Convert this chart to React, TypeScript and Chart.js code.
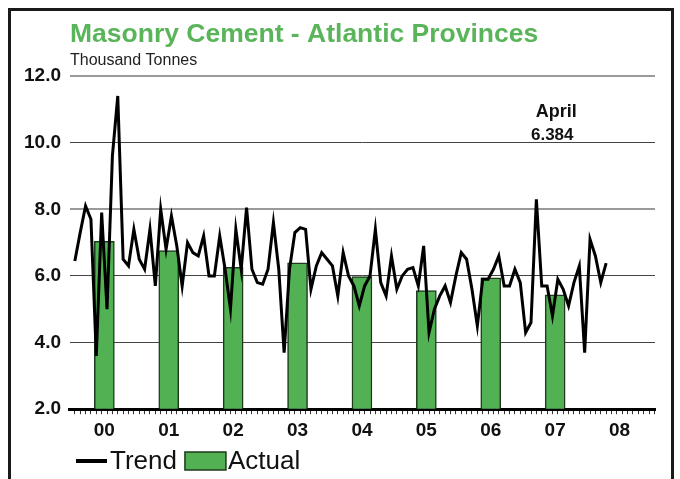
import React, { useEffect, useRef } from 'react';
import { Chart, registerables } from 'chart.js';

Chart.register(...registerables);

// ---- data ----
const yearLabels = ['00', '01', '02', '03', '04', '05', '06', '07', '08'];
const monthNames = ['January', 'February', 'March', 'April', 'May', 'June', 'July', 'August', 'September', 'October', 'November', 'December'];
// monthly trend, Jan 2000 .. Apr 2008 (thousand tonnes)
const trend = [
  6.45, 7.3, 8.1, 7.7, 3.6, 7.9, 5.0, 9.6, 11.4, 6.5, 6.3, 7.4,
  6.5, 6.2, 7.4, 5.7, 8.0, 6.8, 7.8, 6.9, 5.7, 7.0, 6.7, 6.6,
  7.2, 6.0, 6.0, 7.2, 6.2, 5.0, 7.4, 6.2, 8.05, 6.2, 5.8, 5.75,
  6.2, 7.6, 6.2, 3.7, 6.2, 7.3, 7.45, 7.4, 5.6, 6.3, 6.7, 6.5,
  6.3, 5.4, 6.7, 6.0, 5.7, 5.1, 5.7, 6.0, 7.4, 5.8, 5.4, 6.6,
  5.6, 6.0, 6.2, 6.25, 5.7, 6.9, 4.3, 5.0, 5.4, 5.7, 5.2, 6.0,
  6.7, 6.5, 5.6, 4.5, 5.9, 5.9, 6.2, 6.6, 5.7, 5.7, 6.2, 5.8,
  4.3, 4.6, 8.3, 5.7, 5.7, 4.8, 5.9, 5.6, 5.1, 5.8, 6.3, 3.7,
  7.1, 6.6, 5.8, 6.384,
];
// annual actual values, 2000 .. 2007
const actual = [7.04, 6.76, 6.26, 6.39, 5.98, 5.56, 5.94, 5.43];
const yTicks = [2, 4, 6, 8, 10, 12];

const FONT = '"Liberation Sans", Arial, sans-serif';
const GREEN = '#52b152';
const TITLE_GREEN = '#5ab55a';

const overlay = {
  id: 'overlay',
  afterDraw(chart: any) {
    const ctx = chart.ctx as CanvasRenderingContext2D;
    const xs = chart.scales.x;
    const ys = chart.scales.y;
    const area = chart.chartArea;
    ctx.save();
    // annotation of the last month
    const last = trend.length - 1;
    const ax = xs.getPixelForValue(last - 9.3);
    ctx.fillStyle = '#111';
    ctx.textAlign = 'center';
    ctx.textBaseline = 'alphabetic';
    ctx.font = 'bold 18px ' + FONT;
    ctx.fillText(monthNames[last % 12], ax, ys.getPixelForValue(10.77));
    ctx.font = 'bold 17px ' + FONT;
    ctx.fillText(trend[last].toFixed(3), ax - 4, ys.getPixelForValue(10.08));

    // legend
    const ds = chart.data.datasets;
    const ly = 461;
    let x = area.left + 6;
    ctx.textAlign = 'left';
    ctx.textBaseline = 'middle';
    ctx.font = '26px ' + FONT;
    // Trend
    ctx.strokeStyle = '#000';
    ctx.lineWidth = 4;
    ctx.beginPath();
    ctx.moveTo(x, ly);
    ctx.lineTo(x + 31, ly);
    ctx.stroke();
    x += 34;
    ctx.fillStyle = '#111';
    ctx.fillText(ds[0].label, x, ly + 1);
    x += ctx.measureText(ds[0].label).width + 8;
    // Actual
    ctx.fillStyle = GREEN;
    ctx.fillRect(x, ly - 9, 41, 18);
    ctx.strokeStyle = '#1d3a1d';
    ctx.lineWidth = 1.5;
    ctx.strokeRect(x, ly - 9, 41, 18);
    x += 43;
    ctx.fillStyle = '#111';
    ctx.fillText(ds[1].label, x, ly + 1);
    ctx.restore();
  },
};

export default function App() {
  const ref = useRef<HTMLCanvasElement>(null);
  useEffect(() => {
    if (!ref.current) return;
    const chart = new Chart(ref.current, {
      type: 'bar',
      data: {
        datasets: [
          {
            type: 'line',
            label: 'Trend',
            data: trend.map((v, i) => ({ x: i, y: v })),
            borderColor: '#000',
            backgroundColor: '#000',
            borderWidth: 3,
            pointRadius: 0,
            tension: 0,
            order: 0,
          } as any,
          {
            type: 'bar',
            label: 'Actual',
            data: actual.map((v, k) => ({ x: k * 12 + 5.5, y: v })),
            backgroundColor: GREEN,
            borderColor: '#1d3a1d',
            borderWidth: 1.5,
            barThickness: 20,
            base: 2,
            order: 1,
          } as any,
        ],
      },
      options: {
        responsive: false,
        animation: false,
        layout: { padding: { left: 15, right: 25, top: 0, bottom: 32 } },
        plugins: {
          legend: { display: false },
          tooltip: { enabled: false },
          title: {
            display: true,
            text: 'Masonry Cement - Atlantic Provinces',
            align: 'start',
            fullSize: false,
            color: TITLE_GREEN,
            font: { family: FONT, size: 26.5, weight: 'bold' },
            padding: { top: 19, bottom: 0 },
          },
          subtitle: {
            display: true,
            text: 'Thousand Tonnes',
            align: 'start',
            fullSize: false,
            color: '#222',
            font: { family: FONT, size: 16 },
            padding: { top: 0, bottom: 6 },
          },
        },
        scales: {
          x: {
            type: 'linear',
            min: -0.4,
            max: 107.6,
            afterBuildTicks: (axis: any) => {
              const t = [];
              for (let k = 0; k < 108; k++) t.push({ value: k + 0.5 });
              axis.ticks = t;
            },
            ticks: {
              autoSkip: false,
              maxRotation: 0,
              minRotation: 0,
              padding: 5,
              color: '#111',
              font: { family: FONT, size: 19, weight: 'bold' },
              callback: (value: any) => {
                const k = (Number(value) - 5.5) / 12;
                const r = Math.round(k);
                return Math.abs(k - r) < 1e-6 && r >= 0 && r < yearLabels.length ? yearLabels[r] : '';
              },
            },
            grid: {
              display: true,
              drawOnChartArea: false,
              drawTicks: true,
              tickLength: 5,
              color: '#333',
              lineWidth: 1,
            },
            border: { display: true, color: '#000', width: 3 },
          },
          y: {
            min: 2,
            max: 12,
            afterBuildTicks: (axis: any) => {
              axis.ticks = yTicks.map((v) => ({ value: v }));
            },
            ticks: {
              padding: 9,
              color: '#111',
              font: { family: FONT, size: 19, weight: 'bold' },
              callback: (v: any) => Number(v).toFixed(1),
            },
            grid: {
              drawTicks: false,
              color: (c: any) => (c.tick && (c.tick.value === 8 || c.tick.value === 12) ? '#9a9a9a' : '#444'),
              lineWidth: (c: any) => (c.tick && (c.tick.value === 8 || c.tick.value === 12) ? 2 : 1),
            },
            border: { display: false },
          },
        },
      },
      plugins: [overlay],
    } as any);
    return () => chart.destroy();
  }, []);

  return (
    <div style={{ position: 'fixed', left: 0, top: 0, width: 680, height: 479, background: '#fff', overflow: 'hidden' }}>
      <canvas ref={ref} width={680} height={479} style={{ position: 'absolute', left: 0, top: 0 }} />
      <div
        style={{
          position: 'absolute',
          left: 8,
          top: 8,
          width: 660,
          height: 500,
          border: '3px solid #1a1a1a',
          pointerEvents: 'none',
        }}
      />
    </div>
  );
}
